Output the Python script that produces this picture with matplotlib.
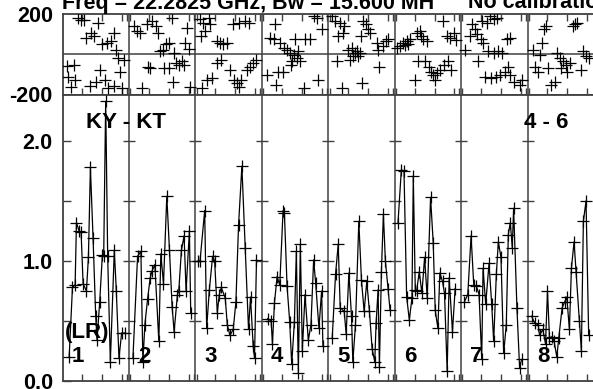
import numpy as np
import matplotlib.pyplot as plt

plt.rcParams['font.family'] = ['Liberation Sans', 'DejaVu Sans']
plt.rcParams['font.weight'] = 'bold'

# --- data: one list per baseline panel, time as fraction of the panel ---
panel_labels = ['1', '2', '3', '4', '5', '6', '7', '8']

amp_t = [
    [0.10, 0.15, 0.19, 0.21, 0.25, 0.28, 0.31, 0.36, 0.39, 0.42, 0.46, 0.50, 0.52, 0.56, 0.60, 0.62, 0.65, 0.68, 0.72, 0.78, 0.81, 0.85, 0.89, 0.94],
    [0.06, 0.13, 0.18, 0.21, 0.24, 0.28, 0.32, 0.35, 0.39, 0.45, 0.48, 0.52, 0.57, 0.61, 0.65, 0.68, 0.73, 0.75, 0.79, 0.83, 0.86, 0.91, 0.93],
    [0.04, 0.07, 0.14, 0.17, 0.21, 0.26, 0.29, 0.33, 0.36, 0.39, 0.45, 0.48, 0.52, 0.57, 0.61, 0.65, 0.70, 0.75, 0.80, 0.83, 0.87, 0.89, 0.92],
    [0.09, 0.14, 0.16, 0.19, 0.23, 0.27, 0.32, 0.34, 0.38, 0.42, 0.45, 0.49, 0.52, 0.55, 0.58, 0.61, 0.65, 0.70, 0.74, 0.78, 0.81, 0.86, 0.90, 0.92],
    [0.06, 0.11, 0.15, 0.18, 0.24, 0.27, 0.31, 0.35, 0.37, 0.41, 0.46, 0.50, 0.54, 0.58, 0.62, 0.66, 0.70, 0.72, 0.75, 0.77, 0.80, 0.83, 0.86, 0.90, 0.93],
    [0.05, 0.10, 0.14, 0.18, 0.22, 0.26, 0.28, 0.31, 0.33, 0.37, 0.41, 0.45, 0.49, 0.54, 0.58, 0.61, 0.65, 0.68, 0.72, 0.75, 0.79, 0.82, 0.87, 0.91],
    [0.05, 0.10, 0.15, 0.19, 0.23, 0.27, 0.31, 0.33, 0.37, 0.42, 0.46, 0.49, 0.53, 0.56, 0.60, 0.64, 0.68, 0.71, 0.74, 0.77, 0.79, 0.84, 0.88, 0.91],
    [0.06, 0.11, 0.16, 0.18, 0.23, 0.27, 0.30, 0.33, 0.37, 0.40, 0.44, 0.47, 0.52, 0.56, 0.59, 0.63, 0.66, 0.70, 0.73, 0.78, 0.81, 0.84, 0.88, 0.92],
]
amp_v = [
    [0.20, 0.78, 0.80, 1.32, 1.25, 1.24, 0.81, 0.75, 1.03, 1.78, 1.19, 0.54, 0.34, 0.66, 1.05, 1.04, 2.33, 1.04, 0.16, 1.09, 0.75, 0.19, 0.40, 0.40],
    [0.19, 1.04, 1.08, 0.16, 0.47, 0.68, 0.86, 0.92, 0.97, 0.33, 1.06, 0.81, 1.54, 1.09, 0.62, 0.41, 0.72, 0.75, 1.09, 1.21, 0.75, 1.25, 0.57],
    [1.00, 1.00, 1.42, 0.44, 0.76, 1.04, 1.00, 0.57, 0.72, 0.78, 0.69, 0.47, 0.38, 0.43, 0.66, 1.30, 1.79, 1.11, 0.43, 0.70, 0.29, 0.19, 1.01],
    [0.52, 0.50, 0.31, 0.65, 0.87, 0.80, 1.42, 1.40, 0.79, 0.49, 0.14, 0.49, 1.08, 0.07, 1.14, 0.25, 0.72, 0.34, 0.47, 1.01, 0.82, 0.44, 0.75, 0.29],
    [0.36, 0.89, 1.14, 0.61, 0.58, 0.39, 0.90, 0.54, 0.16, 0.47, 1.33, 0.84, 0.58, 0.83, 0.58, 0.27, 0.16, 0.48, 0.76, 0.12, 0.91, 1.39, 1.00, 0.77, 0.59],
    [1.32, 1.76, 1.75, 0.70, 0.51, 0.69, 1.71, 0.76, 0.75, 0.91, 0.73, 1.03, 0.69, 1.53, 1.15, 0.59, 0.44, 0.90, 0.83, 0.73, 0.08, 0.86, 0.41, 0.77],
    [0.66, 0.72, 1.21, 0.80, 0.79, 0.72, 0.18, 0.94, 0.64, 0.98, 0.64, 0.33, 0.89, 1.16, 1.03, 0.23, 0.47, 1.22, 1.32, 1.11, 1.44, 0.61, 0.11, 0.18],
    [0.54, 0.48, 0.47, 0.38, 0.43, 0.31, 0.75, 0.36, 0.37, 0.33, 0.20, 0.36, 0.61, 0.66, 0.70, 0.43, 0.94, 1.16, 0.91, 0.50, 0.25, 1.33, 1.50, 0.38],
]

ph_t = [
    [0.07, 0.09, 0.13, 0.17, 0.19, 0.24, 0.28, 0.33, 0.36, 0.41, 0.43, 0.47, 0.51, 0.54, 0.57, 0.59, 0.64, 0.67, 0.69, 0.73, 0.77, 0.78, 0.81, 0.83, 0.86, 0.89, 0.93],
    [0.07, 0.12, 0.17, 0.20, 0.27, 0.28, 0.31, 0.35, 0.40, 0.43, 0.47, 0.51, 0.53, 0.56, 0.60, 0.61, 0.65, 0.67, 0.68, 0.71, 0.75, 0.80, 0.83, 0.85, 0.87, 0.90, 0.92],
    [0.07, 0.09, 0.10, 0.12, 0.15, 0.17, 0.20, 0.22, 0.25, 0.32, 0.33, 0.37, 0.38, 0.42, 0.47, 0.52, 0.57, 0.58, 0.62, 0.65, 0.66, 0.68, 0.74, 0.77, 0.80, 0.82, 0.87, 0.91],
    [0.08, 0.13, 0.18, 0.20, 0.22, 0.25, 0.28, 0.32, 0.33, 0.38, 0.42, 0.44, 0.46, 0.48, 0.50, 0.53, 0.54, 0.58, 0.63, 0.65, 0.73, 0.78, 0.83, 0.85, 0.90],
    [0.05, 0.10, 0.13, 0.15, 0.18, 0.20, 0.22, 0.24, 0.30, 0.33, 0.35, 0.38, 0.40, 0.43, 0.45, 0.48, 0.50, 0.51, 0.53, 0.57, 0.60, 0.63, 0.73, 0.75, 0.77, 0.83, 0.87, 0.90],
    [0.03, 0.08, 0.13, 0.15, 0.18, 0.20, 0.23, 0.30, 0.33, 0.35, 0.38, 0.40, 0.43, 0.45, 0.48, 0.52, 0.55, 0.58, 0.60, 0.63, 0.68, 0.73, 0.74, 0.78, 0.80, 0.83, 0.85, 0.89, 0.93],
    [0.06, 0.14, 0.16, 0.21, 0.24, 0.26, 0.30, 0.31, 0.33, 0.36, 0.39, 0.41, 0.44, 0.45, 0.49, 0.50, 0.52, 0.54, 0.56, 0.59, 0.61, 0.66, 0.69, 0.70, 0.73, 0.74, 0.79, 0.89, 0.92],
    [0.08, 0.11, 0.15, 0.18, 0.21, 0.24, 0.28, 0.31, 0.36, 0.41, 0.44, 0.49, 0.51, 0.54, 0.58, 0.60, 0.64, 0.69, 0.71, 0.75, 0.81, 0.84, 0.88, 0.93],
]
ph_v = [
    [-60, -112, -162, -53, -128, 180, 170, 168, 80, -160, 105, 90, -137, 155, -80, 47, -128, 55, -170, 63, 105, -160, 22, -20, -87, -170, -28],
    [138, 113, 105, -170, 147, -62, -70, 163, 138, 105, 13, 22, -70, 47, 55, -70, 180, -137, 5, -45, -53, -37, -53, 55, 130, 25, -162],
    [172, 88, -170, 155, 113, -128, 180, 147, -120, 63, -45, 55, -28, 47, 55, -78, 147, -128, -145, 155, -162, -128, 163, -78, 155, -62, -45, -28],
    [-103, 80, 72, 147, -153, -87, 55, -87, 30, 22, 5, -53, -37, -3, 72, -20, 13, -37, -170, 72, 72, 188, 180, -128, 122],
    [188, 163, -37, 88, 155, -170, 105, 138, 22, -28, 30, -12, 5, 15, -12, 5, 88, -145, 163, 150, 122, 105, 55, 22, -62, 40, 63, 72],
    [30, 38, 55, 45, 63, 50, 72, -128, 105, -37, 113, 90, 72, -37, 63, -62, -87, -103, -128, -92, -78, 163, -53, 88, -37, 80, -78, 105, 70],
    [22, 88, 147, 122, 97, -37, 72, 163, 55, -112, 155, 13, 188, -120, 172, 5, -112, 180, 13, -103, 5, -87, 72, -62, -103, 80, -137, -153, -128],
    [22, -62, -87, -3, 55, 122, 138, -70, -153, -137, 5, -20, -70, -37, -53, -87, -45, 138, 147, 155, -78, 13, -12, -20],
]

W, H = 593, 389
fig = plt.figure(figsize=(W / 100, H / 100), dpi=100)

left = 62.5 / W
width = 531.5 / W
ax_ph = fig.add_axes([left, 1 - 94.5 / H, width, 81 / H])
ax_amp = fig.add_axes([left, 1 - 381 / H, width, 286.5 / H])

spine_col = '#404040'
n = len(panel_labels)
xt = []
for i in range(n):
    xt += [i + 0.3, i + 0.6, i + 0.9]
    if i > 0:
        xt += [i - 0.025, i + 0.02]

for ax in (ax_ph, ax_amp):
    ax.set_xlim(0, n)
    for s in ax.spines.values():
        s.set_color(spine_col)
        s.set_linewidth(1.3)
    for i in range(1, n):
        ax.axvline(i, color=spine_col, lw=1.1, zorder=1)
    ax.set_xticks(xt)
    ax.set_xticklabels([])
    ax.tick_params(axis='both', direction='in', color=spine_col, width=1, labelsize=15.5, pad=7)

# phase panel
ax_ph.set_ylim(-200, 200)
ax_ph.axhline(0, color=spine_col, lw=1.1, zorder=1)
ax_ph.set_yticks([-200, 200])
ax_ph.set_yticklabels(['-200', '200'])
ax_ph.tick_params(axis='y', length=0)
ax_ph.tick_params(axis='x', top=True, bottom=True, length=5)
for i in range(n):
    ax_ph.plot(i + np.array(ph_t[i]), ph_v[i], ls='none', marker='+',
               ms=8.5, mew=0.9, color='black', zorder=3)

# amplitude panel
ax_amp.set_ylim(0, 286.5 / 120)
yt = [0, 0.5, 1.0, 1.5, 2.0]
ax_amp.set_yticks(yt)
ax_amp.set_yticklabels(['0.0', '', '1.0', '', '2.0'])
ax_amp.tick_params(axis='y', length=6)
ax_amp.tick_params(axis='x', top=False, bottom=True, length=5)
for i in range(1, n):
    ax_amp.plot([i] * 4, yt[1:], ls='none', marker='_', ms=9, mew=1,
                color=spine_col, zorder=2)
for i in range(n):
    ax_amp.plot(i + np.array(amp_t[i]), amp_v[i], color='black', lw=0.9,
                marker='+', ms=8.5, mew=0.9, zorder=3)
    ax_amp.text(i + 0.14, 0.16, panel_labels[i], fontsize=16, va='baseline', ha='left')

ax_amp.text(0.36, 2.105, 'KY - KT', fontsize=16, va='baseline', ha='left')
ax_amp.text(6.94, 2.105, '4 - 6', fontsize=16, va='baseline', ha='left')
ax_amp.text(0.03, 0.36, '(LR)', fontsize=16, va='baseline', ha='left')

fig.text(62 / W, 1 - 8.5 / H, 'Freq = 22.2825 GHz, Bw = 15.600 MH', fontsize=15.5,
         va='baseline', ha='left')
fig.text(468 / W, 1 - 8.5 / H, 'No calibration', fontsize=15.5, va='baseline', ha='left')

fig.savefig('out.png', dpi=100)
